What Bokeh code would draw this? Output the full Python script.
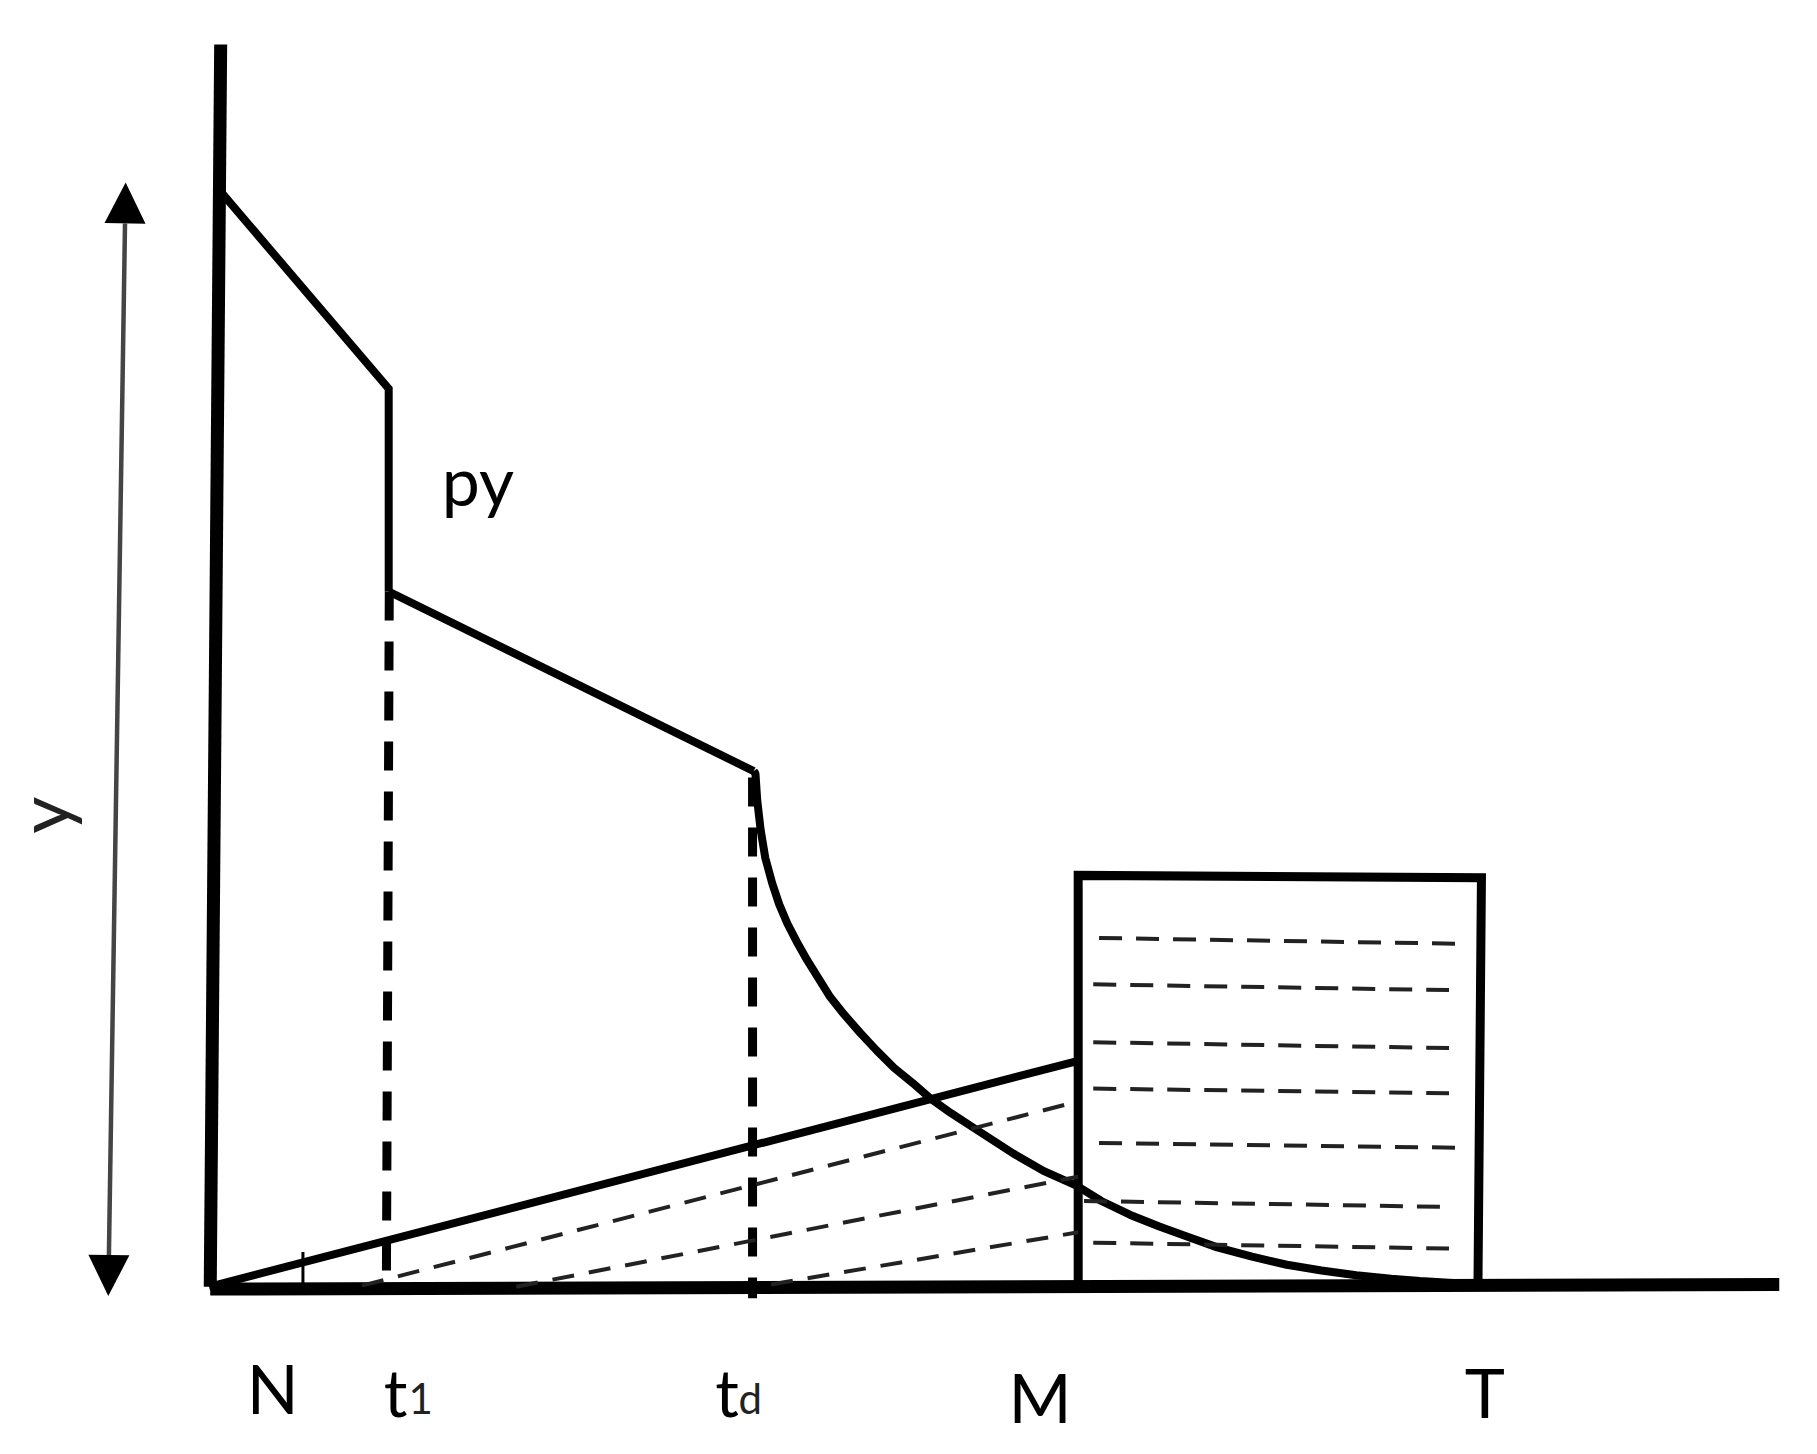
from bokeh.plotting import figure
from bokeh.embed import file_html
from bokeh.resources import INLINE
from bokeh.models import Arrow, NormalHead
from bokeh.core.properties import value
import math

axis_x = [190, 181]
axis_y = [38, 1110]
base_x = [181, 1535]
base_y = [1112, 1108]
seg1_x = [190, 335, 335]
seg1_y = [165, 335, 510]
seg2_x = [335, 650]
seg2_y = [510, 665]
t1_dash_x = [335.5, 333]
t1_dash_y = [510, 1108]
td_dash_x = [649, 649]
td_dash_y = [670.5, 1120]
curve_x = [650, 651.5, 653, 656, 660, 666, 672, 679, 687, 696, 716, 728, 742, 756, 771, 787, 802.5, 820, 840, 857, 874, 900, 929, 950, 975, 1000, 1025, 1050, 1080, 1110, 1140, 1170, 1200, 1225, 1275]
curve_y = [665, 667, 690, 716, 740, 762, 780, 796.5, 812, 828, 860, 875, 891, 906, 921, 934, 947.5, 960, 973, 984, 995, 1010, 1023, 1036, 1048, 1058, 1067, 1076, 1084, 1091, 1096, 1100, 1103, 1105, 1108]
rise_x = [180, 930]
rise_y = [1110, 915]
box_x = [930, 930, 1278, 1275]
box_y = [1110, 755, 757, 1108]
slant_x0 = [312, 445, 665]
slant_y0 = [1109, 1110, 1108]
slant_x1 = [930, 930, 930]
slant_y1 = [950, 1015, 1063]
hatch_x0 = [948, 943, 943, 943, 948, 935, 943]
hatch_y0 = [809, 849, 899, 939, 986, 1036, 1072]
hatch_x1 = [1258, 1250, 1250, 1250, 1258, 1245, 1250]
hatch_y1 = [814, 854, 904, 943, 990, 1041, 1077]
tick_x = [261, 261]
tick_y = [1080, 1110]
arrow_x = [108, 93]
arrow_y = [157, 1118]
labels = ["N", "M", "T", "py"]
label_x = [235, 897, 1281, 412]
label_y = [1197, 1205, 1200, 413]
t_labels = ["t", "t"]
t_x = [341, 627]
t_y = [1200, 1200]
subs = ["1", "d"]
sub_x = [362.5, 647]
sub_y = [1206, 1206]

SCALE = 1817 / 1568
W, H = 1801, 1438
p = figure(width=W, height=H, output_backend="svg", toolbar_location=None,
           x_range=(0, W / SCALE), y_range=(H / SCALE, 0),
           min_border=0, outline_line_color=None)
p.axis.visible = False
p.grid.visible = False

p.line(axis_x, axis_y, line_color="black", line_width=13)
p.line(base_x, base_y, line_color="black", line_width=13)
p.line(seg1_x, seg1_y, line_color="black", line_width=8, line_join="miter")
p.line(seg2_x, seg2_y, line_color="black", line_width=8)
p.line(t1_dash_x, t1_dash_y, line_color="black", line_width=9, line_dash="29 21")
p.line(td_dash_x, td_dash_y, line_color="black", line_width=9, line_dash="29 21")
p.line(curve_x, curve_y, line_color="black", line_width=8)
p.line(rise_x, rise_y, line_color="black", line_width=8)
p.line(box_x, box_y, line_color="black", line_width=9, line_join="miter")
p.segment(slant_x0, slant_y0, slant_x1, slant_y1, line_color="#222222", line_width=4, line_dash="22 15")
p.segment(hatch_x0, hatch_y0, hatch_x1, hatch_y1, line_color="#222222", line_width=4, line_dash="23 14")
p.line(tick_x, tick_y, line_color="black", line_width=3)
p.add_layout(Arrow(x_start=arrow_x[0], y_start=arrow_y[0], x_end=arrow_x[1], y_end=arrow_y[1],
                   line_color="#444444", line_width=4.5,
                   start=NormalHead(size=41, fill_color="black", line_color="black", line_width=0),
                   end=NormalHead(size=41, fill_color="black", line_color="black", line_width=0)))
p.text(label_x, label_y, text=labels, text_font=value("Lato"), text_font_size="68px",
       text_align="center", text_baseline="middle", text_color="black")
p.text(t_x, t_y, text=t_labels, text_font=value("Lato"), text_font_size="66px",
       text_align="center", text_baseline="middle", text_color="black")
p.text(sub_x, sub_y, text=subs, text_font=value("Lato"), text_font_size="42px",
       text_align="center", text_baseline="middle", text_color="#222222")
p.text([36], [703], text=["y"], text_font=value("Lato"), text_font_size="72px",
       text_align="center", text_baseline="middle", angle=math.pi / 2, text_color="#222222")

open("out.html", "w").write(file_html(p, INLINE))
